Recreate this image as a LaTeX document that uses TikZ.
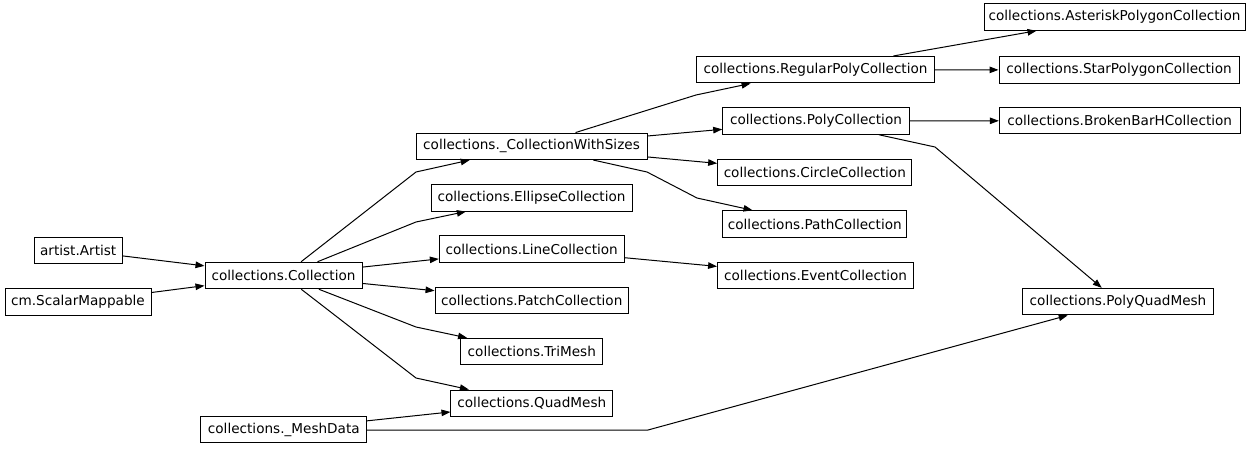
\documentclass[tikz,border=0pt]{standalone}
\usepackage{fontspec}
\setmainfont{DejaVu Sans}
\usetikzlibrary{arrows.meta}
\begin{document}
\begin{tikzpicture}[x=1pt,y=-1pt,
  cls/.style={draw=black,line width=1pt,inner sep=0pt,minimum height=26.5pt,
    font=\fontsize{13.6}{16}\selectfont,text=black,anchor=center},
  edge/.style={draw=black,line width=1pt,-{Triangle[length=9pt,width=6.5pt]}}]
\useasboundingbox (0,0) rectangle (1257,449);
\fill[white] (0,0) rectangle (1257,449);
% nodes
\node[cls,minimum width=87.7pt]  (artist)   at (78.2,250.5) {artist.Artist};
\node[cls,minimum width=146pt]   (scalar)   at (78,302)     {cm.ScalarMappable};
\node[cls,minimum width=157pt]   (coll)     at (283.5,275.5){collections.Collection};
\node[cls,minimum width=165.7pt] (mesh)     at (283.8,429.7){collections.\_MeshData};
\node[cls,minimum width=231pt]   (cws)      at (531.5,146.3){collections.\_CollectionWithSizes};
\node[cls,minimum width=201pt]   (ellipse)  at (531.5,197.8){collections.EllipseCollection};
\node[cls,minimum width=184.7pt] (line)     at (531.7,249)  {collections.LineCollection};
\node[cls,minimum width=193.3pt] (patch)    at (531.7,300.5){collections.PatchCollection};
\node[cls,minimum width=142.3pt] (trimesh)  at (531.8,351.6){collections.TriMesh};
\node[cls,minimum width=161.7pt] (quadmesh) at (531.8,403.3){collections.QuadMesh};
\node[cls,minimum width=237.6pt] (regpoly)  at (815.5,69.7) {collections.RegularPolyCollection};
\node[cls,minimum width=186.6pt] (poly)     at (816,121)    {collections.PolyCollection};
\node[cls,minimum width=194.3pt] (circle)   at (814.8,172.3){collections.CircleCollection};
\node[cls,minimum width=184.3pt] (path)     at (814.8,224)  {collections.PathCollection};
\node[cls,minimum width=196pt]   (event)    at (815.6,275.6){collections.EventCollection};
\node[cls,minimum width=261pt]   (asterisk) at (1114.5,17)  {collections.AsteriskPolygonCollection};
\node[cls,minimum width=240pt]   (star)     at (1119,70)    {collections.StarPolygonCollection};
\node[cls,minimum width=240.7pt] (broken)   at (1119.7,120.7){collections.BrokenBarHCollection};
\node[cls,minimum width=190.6pt] (pqm)      at (1118,301.6) {collections.PolyQuadMesh};
% bend points
\coordinate (b1) at (416,172);
\coordinate (b2) at (416,222);
\coordinate (b3) at (416,327);
\coordinate (b4) at (416,378);
\coordinate (b5) at (648,430);
\coordinate (b6) at (696,95);
\coordinate (b7) at (647,172);
\coordinate (b8) at (697,198);
\coordinate (b9) at (935,147);
% edges
\draw[edge] (artist) -- (coll);
\draw[edge] (scalar) -- (coll);
\draw[edge] (coll) -- (b1) -- (cws);
\draw[edge] (coll) -- (b2) -- (ellipse);
\draw[edge] (coll) -- (line);
\draw[edge] (coll) -- (patch);
\draw[edge] (coll) -- (b3) -- (trimesh);
\draw[edge] (coll) -- (b4) -- (quadmesh);
\draw[edge] (mesh) -- (quadmesh);
\draw[edge] (mesh.east |- b5) -- (b5) -- (pqm);
\draw[edge] (cws) -- (b6) -- (regpoly);
\draw[edge] (cws) -- (poly);
\draw[edge] (cws) -- (circle);
\draw[edge] (cws) -- (b7) -- (b8) -- (path);
\draw[edge] (line) -- (event);
\draw[edge] (regpoly) -- (asterisk);
\draw[edge] (regpoly) -- (star);
\draw[edge] (poly) -- (broken);
\draw[edge] (poly) -- (b9) -- (pqm);
\end{tikzpicture}
\end{document}
